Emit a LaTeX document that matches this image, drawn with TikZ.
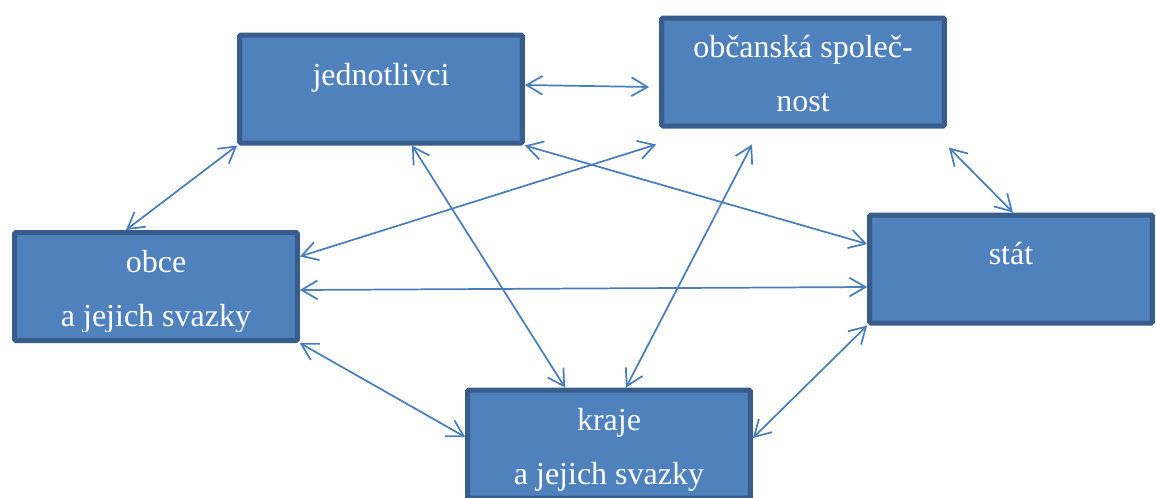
\documentclass[tikz,border=0pt]{standalone}
\usepackage{fontspec}
\setmainfont{Liberation Serif}
\usetikzlibrary{arrows.meta,calc}

\definecolor{boxfill}{RGB}{79,129,189}
\definecolor{boxline}{RGB}{56,93,138}
\definecolor{linkcol}{RGB}{74,126,187}

\begin{document}
\begin{tikzpicture}[
  x=0.75pt, y=-0.75pt,
  >={Straight Barb[length=12pt,width=14pt]},
  unit/.style={rectangle,draw=boxline,fill=boxfill,line width=3.75pt,rounded corners=1pt,minimum width=212pt,minimum height=81pt,inner sep=0pt},
  link/.style={<->,draw=linkcol,line width=1.3pt},
  lbl/.style={text=white,font=\fontsize{24}{40}\selectfont,align=center,anchor=base,inner sep=0pt}
]
  \clip (0,0) rectangle (1156,497);

  \node[unit] (jed) at (381,89) {};
  \node[unit] (obc) at (803,72) {};
  \node[unit] (obe) at (156,286.5) {};
  \node[unit] (sta) at (1011,269) {};
  \node[unit] (kra) at (609,444) {};

  \begin{scope}
    \clip (jed.north west) rectangle ($(jed.south east)+(0,-11)$)
          (obc.north west) rectangle ($(obc.south east)+(0,-11)$)
          (obe.north west) rectangle ($(obe.south east)+(0,-12)$)
          (sta.north west) rectangle ($(sta.south east)+(0,-11)$)
          (kra.north west) rectangle ($(kra.south east)+(0,-10)$);
    \node[lbl] (jed-t) at (381,85) {jednotlivci};
    \node[lbl] (obc-t) at (803,111) {občanská společ-\\nost};
    \node[lbl] (obe-t) at (156,326) {obce\\a jejich svazky};
    \node[lbl] (sta-t) at (1011,264) {stát};
    \node[lbl] (kra-t) at (609,484) {kraje\\a jejich svazky};
  \end{scope}

  \draw[link] ($(jed.east)+(0,-4)$) -- ($(obc.west)+(-10,15)$);
  \draw[link] (jed.south west) -- ($(obe.north)+(-30,0)$);
  \draw[link] ($(jed.south)+(31,0)$) -- ($(kra.north)+(-44,0)$);
  \draw[link] (jed.south east) -- ($(sta.west)+(0,-25)$);
  \draw[link] ($(obc.south west)+(-3,16)$) -- ($(obe.east)+(0,-30)$);
  \draw[link] ($(obc.south)+(-51,16)$) -- ($(kra.north)+(17,0)$);
  \draw[link] ($(obc.south east)+(2,19)$) -- ($(sta.north)+(2,0)$);
  \draw[link] ($(obe.east)+(0,3.5)$) -- ($(sta.west)+(0,18)$);
  \draw[link] (obe.south east) -- ($(kra.west)+(0,-7)$);
  \draw[link] (sta.south west) -- ($(kra.east)+(0,-6)$);
\end{tikzpicture}
\end{document}
